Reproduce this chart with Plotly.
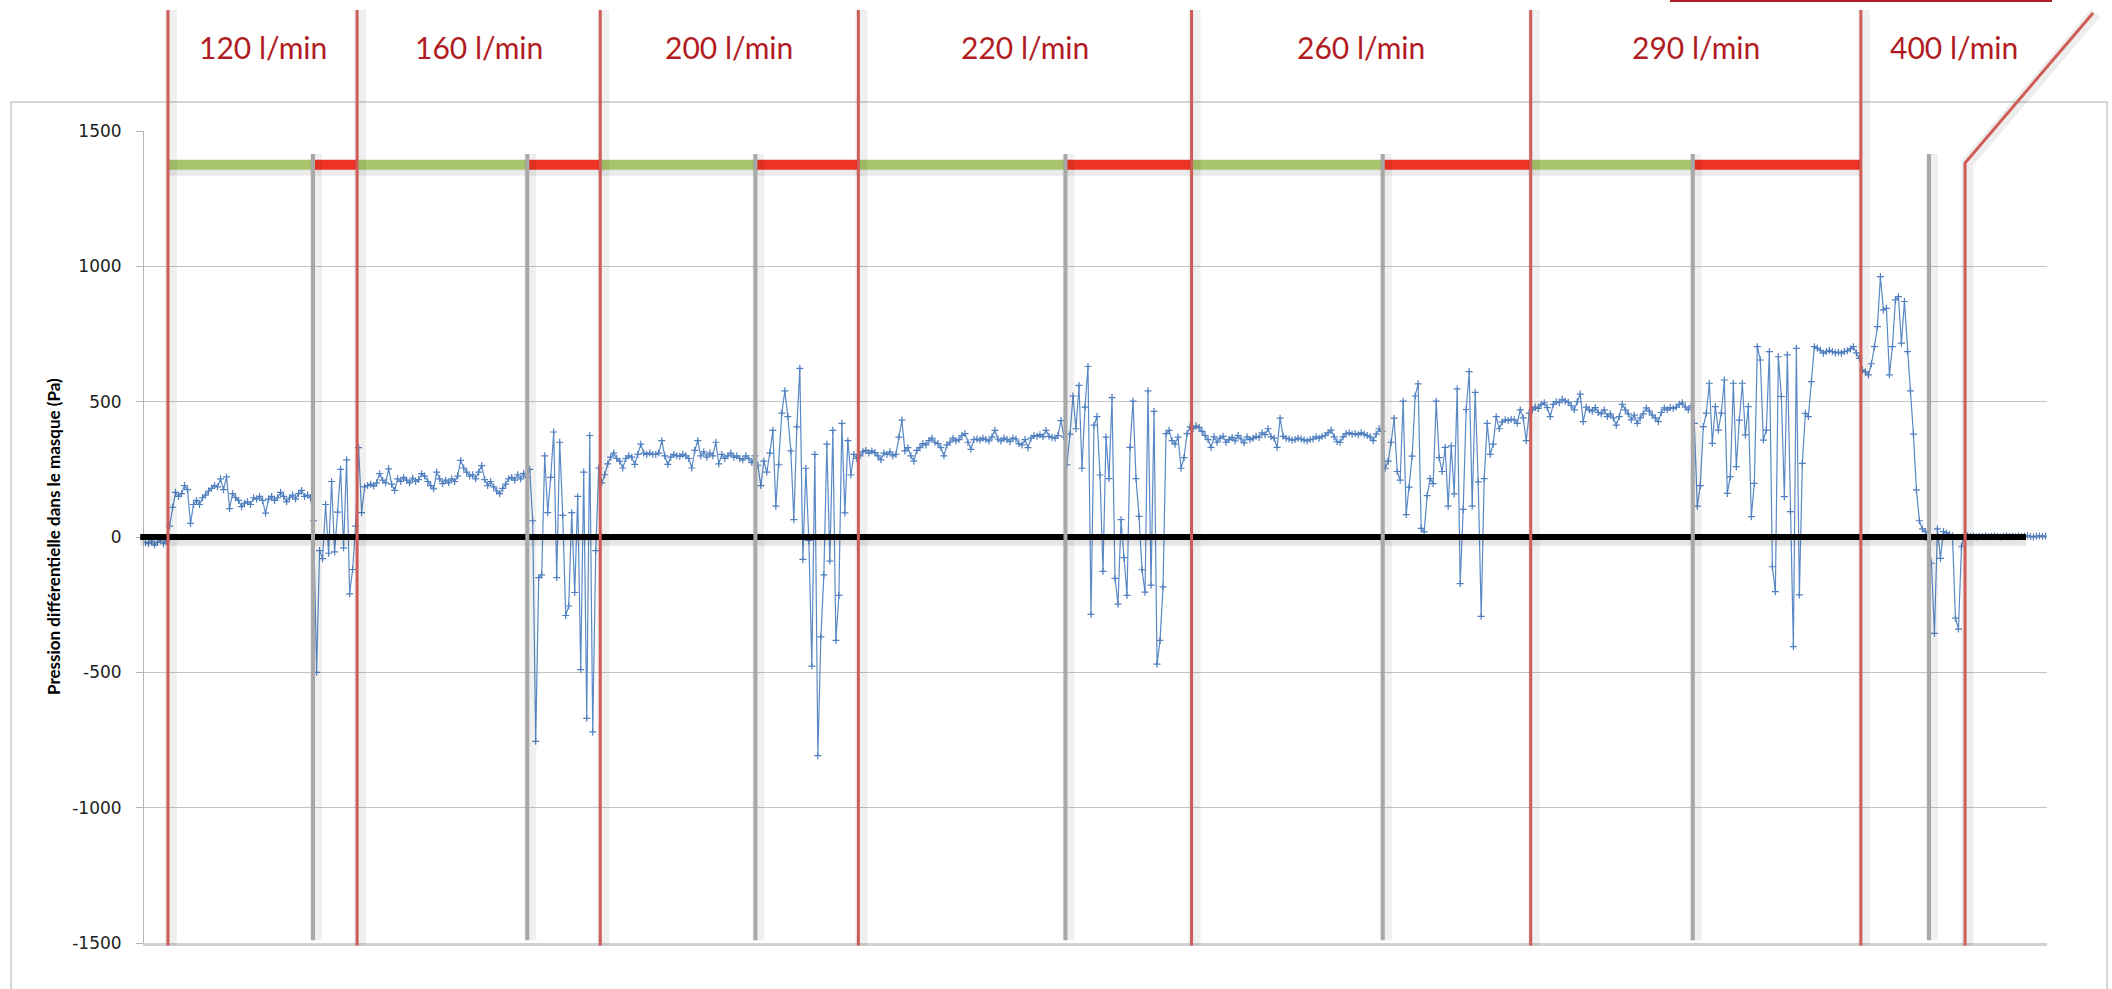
import plotly.graph_objects as go

# Differential pressure inside the mask (Pa), one reading per sample,
# grouped by inspiratory flow step.
lead_in = [-20, -25, -15, -30, -20, -10, -25, -15]
q120 = [40, 110, 165, 150, 160, 190, 175, 50, 120, 135, 120, 145, 155, 170, 180, 190, 185, 215, 175, 222,
        105, 160, 145, 135, 112, 125, 130, 120, 145, 140, 150, 135, 88, 140, 150, 135, 145, 165, 150, 130,
        145, 155, 140, 160, 172, 150, 155, 145,
        60, -500, -50, -80, 120, -60, 205, -55, 92, 250, -40, 285, -210, -120, 40]
q160 = [330, 90, 185, 190, 195, 188, 200, 234, 210, 200, 252, 195, 172, 215, 205, 220, 210, 200, 218, 205,
        212, 234, 225, 205, 190, 178, 240, 215, 197, 210, 200, 215, 205, 225, 283, 255, 240, 225, 230, 215,
        240, 264, 212, 190, 205, 185, 170, 160, 180, 195, 215, 220, 210, 230, 215, 235, 220,
        250, 60, -755, -150, -140, 300, 90, 220, 388, -150, 350, 80, -290, -255, 90, -205, 150, -490, 240, -670,
        375, -720, -50, 255]
q200 = [200, 230, 270, 295, 310, 290, 280, 255, 290, 300, 295, 268, 305, 343, 310, 305, 310, 305, 305, 310,
        356, 300, 268, 295, 305, 300, 298, 305, 300, 290, 255, 320, 356, 300, 315, 295, 310, 300, 350, 270,
        305, 290, 300, 310, 295, 300, 290, 285, 300, 290, 275, 300,
        265, 190, 280, 240, 310, 394, 114, 267, 458, 540, 445, 318, 64, 407, 623, -83, 254, -13, -477, 305,
        -808, -369, -140, 343, -89, 394, -382, -216, 420, 89, 356, 229, 305, 290]
q220 = [300, 315, 320, 310, 318, 312, 300, 285, 310, 305, 315, 300, 305, 369, 432, 318, 330, 300, 280, 320,
        330, 345, 340, 356, 365, 350, 345, 330, 300, 340, 350, 365, 355, 360, 375, 382, 350, 324, 360, 362,
        358, 365, 360, 355, 370, 394, 362, 355, 365, 360, 352, 365, 362, 345, 340, 360, 330, 365, 375, 372,
        378, 370, 394, 372, 368, 365, 375, 430, 370,
        267, 380, 521, 400, 560, 254, 480, 630, -286, 413, 445, 229, -127, 369, 216, 515, -153, -248, 64, -76,
        -216, 331, 502, 216, 76, -121, -204, 540, -178, 464, -470, -382, -184, 382, 394, 356, 343, 369, 254, 293,
        382, 407]
q260 = [400, 410, 405, 390, 375, 360, 331, 370, 350, 365, 372, 350, 360, 368, 355, 375, 362, 348, 370, 360,
        365, 372, 368, 385, 378, 400, 370, 365, 331, 439, 372, 365, 362, 358, 360, 365, 362, 358, 355, 360,
        362, 370, 365, 372, 375, 385, 395, 370, 352, 350, 370, 382, 385, 380, 382, 378, 385, 380, 375, 370,
        356, 380, 400, 390,
        254, 280, 350, 439, 242, 210, 502, 83, 184, 299, 521, 566, 32, 19, 153, 216, 197, 502, 293, 242,
        331, 114, 337, 159, 547, -172, 102, 471, 611, 114, 534, 204, -293, 216, 420, 305, 343, 445, 400, 425,
        433, 430, 435, 433, 420, 470, 440, 356, 458]
q290 = [470, 480, 475, 490, 496, 478, 445, 490, 500, 496, 509, 502, 498, 485, 470, 500, 528, 426, 480, 470,
        465, 478, 460, 455, 470, 445, 455, 440, 413, 445, 490, 470, 455, 433, 450, 420, 440, 455, 477, 465,
        450, 440, 426, 460, 477, 470, 478, 475, 480, 490, 496, 480, 470, 485,
        420, 114, 190, 408, 458, 568, 346, 482, 395, 458, 580, 161, 223, 568, 260, 432, 568, 377, 482, 75,
        198, 703, 654, 358, 395, 685, -110, -202, 666, 519, 149, 673, 94, -405, 697, -214, 272, 457, 445, 574,
        703, 697, 690, 679, 685, 690, 685, 680, 683, 679, 685, 688, 695, 703, 680, 660]
q400 = [617, 610, 599, 640, 703, 777, 962, 839, 845, 599, 703, 876, 888, 716, 870, 685, 540, 380, 174, 60,
        30, 20, -11, -97, -356, 30, -79, 20, 15, 10, 5, -300, -340, -36,
        3, 5, 2, 4, 0, 3, 2, 5, 1, 3, 4, 2, 0, 3, 5, 2, 3, 1, 4, 2, 3, 5, 2, 0, 3, 4, 2, 3]

flow_labels = ["120 l/min", "160 l/min", "200 l/min", "220 l/min", "260 l/min", "290 l/min", "400 l/min"]
# sample index where the pressure starts to become unstable in each step
unstable_from = [55.8, 127.2, 203.2, 306.5, 412.2, 515.5, 594.2]
# sample index where the test was stopped
test_stop = 606.2

y_ticks = [-1500, -1000, -500, 0, 500, 1000, 1500]

steps = [q120, q160, q200, q220, q260, q290, q400]
pressure = lead_in + [v for s in steps for v in s]
n = len(pressure)
samples = list(range(n))

step_start = []
pos = len(lead_in)
for s in steps:
    step_start.append(pos - 0.5)
    pos += len(s)
x_lo, x_hi = -0.5, n - 0.5


def xfrac(i):
    return (i - x_lo) / (x_hi - x_lo)


W, H = 2112, 989
ML, MR, MT, MB = 144, 65, 131, 46
plot_w, plot_h = W - ML - MR, H - MT - MB


def px_to_py(py):
    # vertical pixel -> paper fraction
    return (H - MB - py) / plot_h


def px_to_px(px):
    # horizontal pixel -> paper fraction
    return (px - ML) / plot_w


fig = go.Figure()
fig.add_trace(go.Scatter(
    x=samples, y=pressure, mode="lines+markers",
    line=dict(color="#5A8AC6", width=1.2),
    marker=dict(symbol="cross-thin", size=5, line=dict(color="#4F7FBF", width=1.2)),
    showlegend=False, hoverinfo="skip"))

shapes = []

# outer chart frame
shapes.append(dict(type="rect", xref="paper", yref="paper",
                   x0=px_to_px(11), x1=px_to_px(2107), y0=px_to_py(1005), y1=px_to_py(102),
                   line=dict(color="#C9C9C9", width=1.5), layer="below"))

# zero reference line with soft shadow
shapes.append(dict(type="line", xref="paper", yref="y", x0=-0.002, x1=px_to_px(2026), y0=-16, y1=-16,
                   line=dict(color="rgba(0,0,0,0.10)", width=9)))
shapes.append(dict(type="line", xref="paper", yref="y", x0=-0.002, x1=px_to_px(2026), y0=0, y1=0,
                   line=dict(color="#000000", width=6)))

# stable / unstable bars above the curve
bar_y = 1375
for k in range(6):
    a, b, c = step_start[k], unstable_from[k], step_start[k + 1]
    for x0, x1, col in ((a, b, "#A8C56B"), (b, c, "#EE3325")):
        shapes.append(dict(type="line", xref="x", yref="y", x0=x0, x1=x1, y0=bar_y - 24, y1=bar_y - 24,
                           line=dict(color="rgba(0,0,0,0.08)", width=9)))
        shapes.append(dict(type="line", xref="x", yref="y", x0=x0, x1=x1, y0=bar_y, y1=bar_y,
                           line=dict(color=col, width=10)))

# grey lines: onset of instability
for u in unstable_from:
    shapes.append(dict(type="line", xref="x", yref="y", x0=u + 1, x1=u + 1, y0=-1490, y1=1415,
                       line=dict(color="rgba(0,0,0,0.06)", width=12)))
    shapes.append(dict(type="line", xref="x", yref="y", x0=u, x1=u, y0=-1490, y1=1415,
                       line=dict(color="#A8A8A8", width=4)))

# red lines: start of each flow step
for s in step_start:
    shapes.append(dict(type="line", xref="x", yref="paper", x0=s + 1, x1=s + 1, y0=-0.003, y1=px_to_py(10),
                       line=dict(color="rgba(0,0,0,0.06)", width=12)))
    shapes.append(dict(type="line", xref="x", yref="paper", x0=s, x1=s, y0=-0.003, y1=px_to_py(10),
                       line=dict(color="#CF5C56", width=3)))

# end of test marker with its leader line
xs = xfrac(test_stop)
lead = (2092 - 1964) / plot_w
shapes.append(dict(type="path", xref="paper", yref="paper",
                   path=f"M {xs + 0.0012},{-0.003} L {xs + 0.0012},{px_to_py(163)} L {xs + lead + 0.0012},{px_to_py(13)}",
                   line=dict(color="rgba(0,0,0,0.07)", width=12)))
shapes.append(dict(type="path", xref="paper", yref="paper",
                   path=f"M {xs},{-0.003} L {xs},{px_to_py(163)} L {xs + lead},{px_to_py(13)}",
                   line=dict(color="#CF5C56", width=3)))
shapes.append(dict(type="line", xref="paper", yref="paper",
                   x0=px_to_px(1670), x1=px_to_px(2052), y0=px_to_py(1), y1=px_to_py(1),
                   line=dict(color="#B01E24", width=2)))

annotations = []
ends = step_start[1:] + [x_hi]
for lab, a, b in zip(flow_labels, step_start, ends):
    annotations.append(dict(x=(a + b) / 2, y=px_to_py(47), xref="x", yref="paper", text=lab,
                            showarrow=False, xanchor="center", yanchor="middle",
                            font=dict(family="Lato", size=30, color="#B01C22")))
annotations.append(dict(x=px_to_px(53), y=0.5, xref="paper", yref="paper",
                        text="<b>Pression différentielle dans le masque (Pa)</b>", textangle=-90,
                        showarrow=False, xanchor="center", yanchor="middle",
                        font=dict(family="Lato", size=17, color="#000000")))

fig.update_layout(
    width=W, height=H, margin=dict(l=ML, r=MR, t=MT, b=MB),
    paper_bgcolor="white", plot_bgcolor="white",
    shapes=shapes, annotations=annotations,
    xaxis=dict(range=[x_lo, x_hi], showgrid=False, zeroline=False, showticklabels=False,
               showline=True, linecolor="#D2D2D2", linewidth=3, ticks=""),
    yaxis=dict(range=[-1500, 1500], tickvals=y_ticks, ticktext=[str(v) for v in y_ticks],
               showgrid=True, gridcolor="#C4C4C4", gridwidth=1.3, zeroline=False,
               showline=True, linecolor="#B5B5B5", linewidth=1, ticks="outside", ticklen=7,
               tickcolor="#B5B5B5", ticklabelstandoff=11,
               tickfont=dict(family="DejaVu Sans", size=17, color="#222222")),
)

fig.write_html("out.html")
